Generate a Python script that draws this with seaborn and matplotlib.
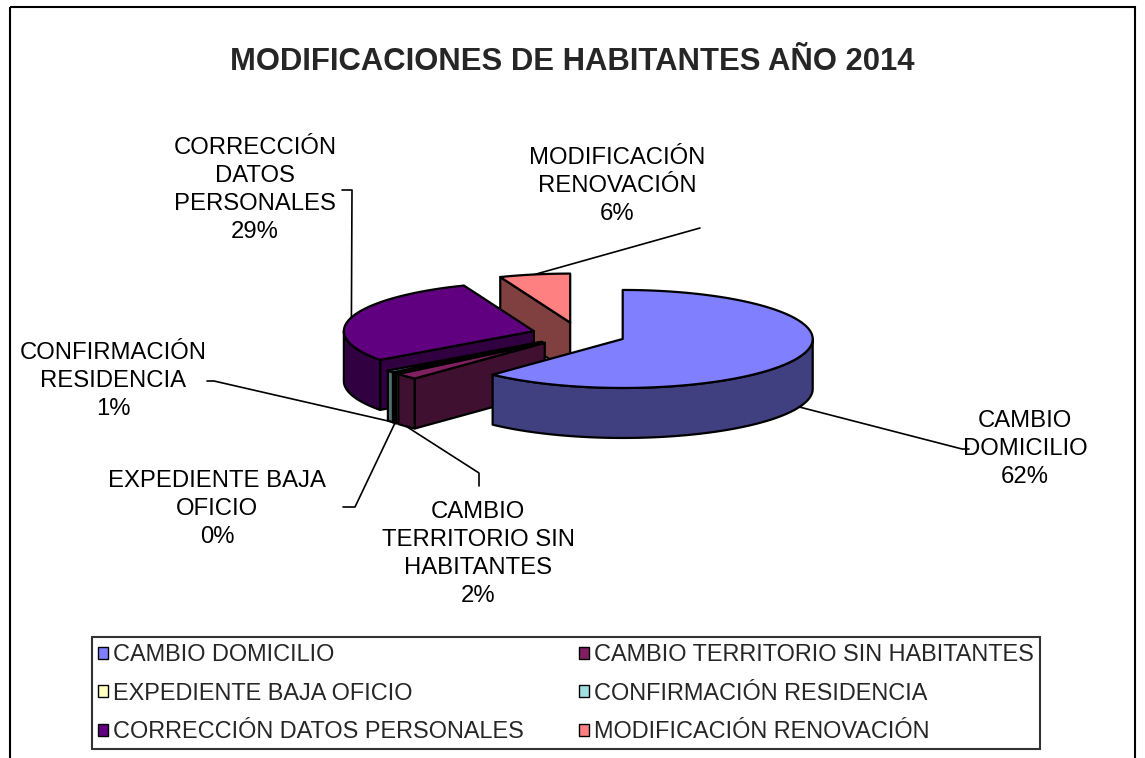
import numpy as np
import matplotlib.pyplot as plt
import seaborn as sns
from matplotlib.patches import Polygon, Patch, Rectangle

# --- Datos ---
categorias = ['CAMBIO DOMICILIO', 'CAMBIO TERRITORIO SIN HABITANTES', 'EXPEDIENTE BAJA OFICIO',
              'CONFIRMACIÓN RESIDENCIA', 'CORRECCIÓN DATOS PERSONALES', 'MODIFICACIÓN RENOVACIÓN']
valores = [62, 2, 0.3, 0.7, 29, 6]
etiquetas_pie = ['CAMBIO\nDOMICILIO', 'CAMBIO\nTERRITORIO SIN\nHABITANTES', 'EXPEDIENTE BAJA\nOFICIO',
                 'CONFIRMACIÓN\nRESIDENCIA', 'CORRECCIÓN\nDATOS\nPERSONALES', 'MODIFICACIÓN\nRENOVACIÓN']
colores = ['#8080FF', '#802060', '#FFFFC0', '#A0E0E0', '#600080', '#FF8080']
titulo = 'MODIFICACIONES DE HABITANTES AÑO 2014'

# --- Estilo ---
sns.set_theme(style="white")
plt.rcParams['font.family'] = ['Liberation Sans', 'DejaVu Sans']
paleta = sns.color_palette(colores)
lados = [tuple(0.5 * c for c in col) for col in paleta]  # cara lateral mas oscura

fig = plt.figure(figsize=(11.45, 7.58), dpi=100)
ax = fig.add_axes([0, 0, 1, 1])
ax.set_xlim(0, 1145)
ax.set_ylim(758, 0)
ax.axis('off')

# geometria de la tarta 3D (en pixeles)
CX, CY = 579, 334.5
RX, RY = 190, 49
PROF = 50
EXPL = 47
FS = 17.2

total = sum(valores)
fr = np.array(valores) / total
ini = np.concatenate([[0], np.cumsum(fr)[:-1]])
# como en Excel: empieza a las 12 y gira en sentido horario
t_fin = np.pi / 2 - 2 * np.pi * ini
t_ini = t_fin - 2 * np.pi * fr


def arco(cx, cy, a, b, dz=0):
    ts = np.linspace(a, b, max(4, int(np.degrees(b - a)) + 2))
    return list(zip(cx + RX * np.cos(ts), cy - RY * np.sin(ts) + dz))


def frente(a, b):
    # tramos del arco que miran al observador (sin < 0)
    tramos = []
    for k in (-1, 0, 1):
        lo, hi = 2 * np.pi * k - np.pi, 2 * np.pi * k
        x0, x1 = max(a, lo), min(b, hi)
        if x1 > x0:
            tramos.append((x0, x1))
    return tramos


kw = dict(edgecolor='black', linewidth=1.6, joinstyle='round')
anclas = {}
# se pinta de atras hacia delante (orden inverso de las porciones)
for i in range(len(valores))[::-1]:
    a, b = t_ini[i], t_fin[i]
    m = (a + b) / 2
    cx = CX + EXPL * np.cos(m)
    cy = CY - EXPL * (RY / RX) * np.sin(m)
    # paredes radiales visibles
    for t, normal in ((a, a - np.pi / 2), (b, b + np.pi / 2)):
        if np.sin(normal) < 0:
            ex, ey = cx + RX * np.cos(t), cy - RY * np.sin(t)
            ax.add_patch(Polygon([(cx, cy), (ex, ey), (ex, ey + PROF), (cx, cy + PROF)],
                                 facecolor=lados[i], **kw))
    # pared exterior
    for lo, hi in frente(a, b):
        sup = arco(cx, cy, lo, hi)
        inf = arco(cx, cy, lo, hi, PROF)[::-1]
        ax.add_patch(Polygon(sup + inf, facecolor=lados[i], **kw))
    # cara superior
    ax.add_patch(Polygon([(cx, cy)] + arco(cx, cy, a, b), facecolor=paleta[i], **kw))
    dz = PROF if np.sin(m) < 0 else 0
    anclas[i] = (cx + RX * np.cos(m), cy - RY * np.sin(m) + dz)

# --- Etiquetas con lineas guia ---
pos_texto = [(1025, 449), (478, 554), (217, 509), (113, 381), (255, 190), (617, 186)]
guias = [[(962, 449), (969, 449)], [(479, 473), (479, 486)], [(355, 507), (343, 507)],
         [(214, 381), (207, 381)], [(352, 190), (342, 190)], [(700, 228)]]
for i, etq in enumerate(etiquetas_pie):
    pts = [anclas[i]] + guias[i]
    ax.plot([p[0] for p in pts], [p[1] for p in pts], color='black', lw=1.2, zorder=5)
    pct = f"{round(100 * valores[i] / total)}%"
    ax.text(pos_texto[i][0], pos_texto[i][1], f"{etq}\n{pct}", ha='center', va='center',
            fontsize=FS, linespacing=1.36, color='black')

ax.text(572, 62, titulo, ha='center', va='center', fontsize=22.3, fontweight='bold')

# --- Leyenda (dos columnas, por filas) ---
handles = [Patch(facecolor=paleta[i], edgecolor='black', linewidth=1) for i in range(len(categorias))]
orden = [0, 2, 4, 1, 3, 5]
ax.legend([handles[j] for j in orden], [categorias[j] for j in orden], ncol=2,
          loc='upper left', bbox_to_anchor=(92, 637), bbox_transform=ax.transData,
          borderaxespad=0, fontsize=16.9, frameon=True, fancybox=False,
          edgecolor='black', handlelength=0.42, handleheight=0.42, handletextpad=0.22,
          columnspacing=2.35, labelspacing=0.66, borderpad=0.26)
ax.get_legend().get_frame().set_linewidth(1.5)

# marco exterior del grafico
ax.add_patch(Rectangle((10, 7), 1125, 800, fill=False, edgecolor='black', lw=1.5, clip_on=False))

fig.savefig('out.png', dpi=100)
